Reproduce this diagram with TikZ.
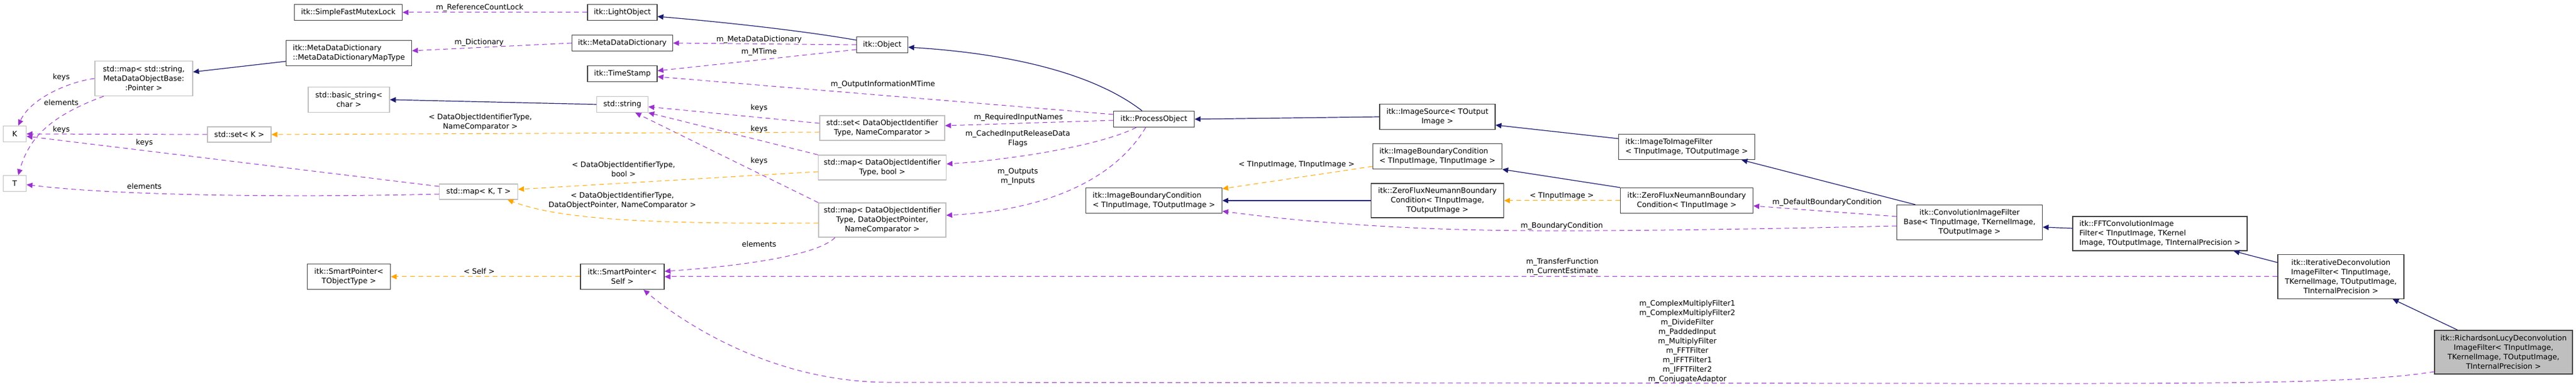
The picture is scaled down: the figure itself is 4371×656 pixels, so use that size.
\documentclass[tikz,border=0pt]{standalone}
\usepackage{fontspec}
\setmainfont{DejaVu Sans}
\usetikzlibrary{arrows.meta}
\definecolor{pur}{HTML}{9A32CD}
\definecolor{org}{HTML}{FFA500}
\definecolor{blu}{HTML}{191970}
\definecolor{gb}{HTML}{BFBFBF}
\definecolor{db}{HTML}{404040}
\begin{document}
\begin{tikzpicture}[x=0.5pt,y=-0.5pt,
  every node/.style={font=\fontsize{6.3}{8}\selectfont, inner sep=1pt},
  itk/.style={draw=db, line width=0.6pt, fill=white, align=center},
  stdn/.style={draw=gb, line width=0.6pt, fill=white, align=center},
  lbl/.style={align=center},
  tip/.style={-{Triangle[length=5pt,width=4.5pt]}},
  mem/.style={tip, draw=pur, dash pattern=on 4pt off 3pt, line width=0.5pt},
  tmpl/.style={tip, draw=org, dash pattern=on 4pt off 3pt, line width=0.5pt},
  inh/.style={tip, draw=blu, line width=0.6pt}]
\useasboundingbox (0,0) rectangle (4371,656);
% nodes
\node[itk, minimum width=91.5pt, minimum height=13.5pt] (mutex) at (591,21) {itk::SimpleFastMutexLock};
\node[itk, minimum width=106.5pt, minimum height=21.5pt, align=left] (maptype) at (592,90) {itk::MetaDataDictionary\\::MetaDataDictionaryMapType};
\node[stdn, minimum width=83pt, minimum height=29.5pt] (mapstr) at (244,133) {std::map\textless{} std::string,\\MetaDataObjectBase:\\:Pointer \textgreater{}};
\node[stdn, minimum width=69pt, minimum height=21.5pt] (bstr) at (592,169) {std::basic\_string\textless{}\\char \textgreater{}};
\node[stdn, minimum width=19.5pt, minimum height=13.5pt] (K) at (25,227) {K};
\node[stdn, minimum width=54pt, minimum height=13pt] (setK) at (406,228) {std::set\textless{} K \textgreater{}};
\node[stdn, minimum width=19.5pt, minimum height=13.5pt] (T) at (25,311) {T};
\node[itk, minimum width=70.5pt, minimum height=21.5pt] (spT) at (592,469) {itk::SmartPointer\textless{}\\TObjectType \textgreater{}};
\node[itk, minimum width=59pt, minimum height=13.5pt] (light) at (1056,21) {itk::LightObject};
\node[itk, minimum width=85.5pt, minimum height=13.5pt] (mdd) at (1056,73) {itk::MetaDataDictionary};
\node[itk, minimum width=59pt, minimum height=13.5pt] (ts) at (1056,125) {itk::TimeStamp};
\node[stdn, minimum width=43.5pt, minimum height=13.5pt] (str) at (1056,177) {std::string};
\node[stdn, minimum width=66.5pt, minimum height=13pt] (mapKT) at (812,325) {std::map\textless{} K, T \textgreater{}};
\node[stdn, minimum width=106pt, minimum height=21pt] (setD) at (1497,217) {std::set\textless{} DataObjectIdentifier\\Type, NameComparator \textgreater{}};
\node[stdn, minimum width=108.5pt, minimum height=21pt] (mapB) at (1497,284) {std::map\textless{} DataObjectIdentifier\\Type, bool \textgreater{}};
\node[stdn, minimum width=108pt, minimum height=29pt] (mapP) at (1497,373) {std::map\textless{} DataObjectIdentifier\\Type, DataObjectPointer,\\NameComparator \textgreater{}};
\node[itk, minimum width=71pt, minimum height=21.5pt] (spS) at (1056,469) {itk::SmartPointer\textless{}\\Self \textgreater{}};
\node[itk, minimum width=43.5pt, minimum height=13.5pt] (obj) at (1497,76) {itk::Object};
\node[itk, minimum width=68.5pt, minimum height=13.5pt] (po) at (1958,202) {itk::ProcessObject};
\node[itk, minimum width=115.5pt, minimum height=21.5pt, align=left] (ibcIO) at (1958,340) {itk::ImageBoundaryCondition\\\textless{} TInputImage, TOutputImage \textgreater{}};
\node[itk, minimum width=98pt, minimum height=21.5pt] (isrc) at (2439,198) {itk::ImageSource\textless{} TOutput\\Image \textgreater{}};
\node[itk, minimum width=109.5pt, minimum height=21.5pt, align=left] (ibcII) at (2439,265) {itk::ImageBoundaryCondition\\\textless{} TInputImage, TInputImage \textgreater{}};
\node[itk, minimum width=112.5pt, minimum height=29pt] (zfIO) at (2439,340) {itk::ZeroFluxNeumannBoundary\\Condition\textless{} TInputImage,\\TOutputImage \textgreater{}};
\node[itk, minimum width=115.5pt, minimum height=21.5pt, align=left] (i2i) at (2862,249) {itk::ImageToImageFilter\\\textless{} TInputImage, TOutputImage \textgreater{}};
\node[itk, minimum width=112.5pt, minimum height=21.5pt] (zfI) at (2862,340) {itk::ZeroFluxNeumannBoundary\\Condition\textless{} TInputImage \textgreater{}};
\node[itk, minimum width=123.5pt, minimum height=29.5pt] (conv) at (3342,377) {itk::ConvolutionImageFilter\\Base\textless{} TInputImage, TKernelImage,\\TOutputImage \textgreater{}};
\node[itk, minimum width=148pt, minimum height=29pt, align=left] (fft) at (3665,396) {itk::FFTConvolutionImage\\Filter\textless{} TInputImage, TKernel\\Image, TOutputImage, TInternalPrecision \textgreater{}};
\node[itk, minimum width=107pt, minimum height=37.5pt] (iter) at (3972,469) {itk::IterativeDeconvolution\\ImageFilter\textless{} TInputImage,\\TKernelImage, TOutputImage,\\TInternalPrecision \textgreater{}};
\node[itk, fill=gb, minimum width=117pt, minimum height=37pt] (rl) at (4248,597) {itk::RichardsonLucyDeconvolution\\ImageFilter\textless{} TInputImage,\\TKernelImage, TOutputImage,\\TInternalPrecision \textgreater{}};
% member edges
\draw[mem] (light.west) -- (mutex.east);
\draw[mem] (mdd.west) -- ([yshift=2pt]maptype.east);
\draw[mem] (obj.west) -- (mdd.east);
\draw[mem] ([yshift=-4pt]obj.west) -- ([yshift=2.5pt]ts.east);
\draw[mem] ([yshift=4pt]po.west) -- ([yshift=-2.5pt]ts.east);
\draw[mem] ([yshift=-1pt]po.west) -- ([yshift=2pt]setD.east);
\draw[mem] ([xshift=-15pt]po.south) .. controls (1860,250) and (1700,272) .. ([yshift=3pt]mapB.east);
\draw[mem] ([xshift=-7pt]po.south) .. controls (1900,290) and (1800,355) .. ([yshift=4pt]mapP.east);
\draw[mem] ([yshift=4pt]setD.west) -- ([yshift=-2pt]str.east);
\draw[mem] (mapB.north west) -- (str.south east);
\draw[mem] (mapP.north west) -- ([xshift=11pt]str.south);
\draw[mem] ([xshift=-40pt]mapP.south) .. controls (1380,440) and (1200,455) .. ([yshift=4.5pt]spS.east);
\draw[mem] (iter.west) -- (spS.east);
\draw[mem] ([yshift=-16.5pt]rl.west) .. controls (4000,652) and (3700,650) .. (3300,650) -- (1500,648) .. controls (1300,645) and (1150,540) .. ([xshift=18pt]spS.south);
\draw[mem] ([yshift=-3pt]conv.west) .. controls (3000,388) and (2750,392) .. (2600,391) .. controls (2350,390) and (2180,372) .. ([yshift=-9pt]ibcIO.east);
\draw[mem] ([yshift=5pt]conv.west) -- ([yshift=-4.5pt]zfI.east);
\draw[mem] (mapstr.west) .. controls (110,140) and (50,170) .. ([xshift=3pt]K.north);
\draw[mem] ([xshift=-34pt]mapstr.south) .. controls (90,195) and (50,230) .. ([xshift=3pt]T.north);
\draw[mem] (setK.west) -- (K.east);
\draw[mem] ([yshift=4.5pt]mapKT.west) -- ([yshift=-2pt]K.east);
\draw[mem] ([yshift=-2pt]mapKT.west) .. controls (500,335) and (200,332) .. ([yshift=-1pt]T.east);
% template edges
\draw[tmpl] ([yshift=-3.5pt]setD.west) -- (setK.east);
\draw[tmpl] ([yshift=-3.5pt]mapB.west) -- ([yshift=2pt]mapKT.east);
\draw[tmpl] ([yshift=-2.5pt]mapP.west) .. controls (1100,380) and (950,372) .. ([xshift=-9pt]mapKT.south east);
\draw[tmpl] (spS.west) -- (spT.east);
\draw[tmpl] ([yshift=-8.5pt]ibcII.west) -- ([yshift=10pt]ibcIO.east);
\draw[tmpl] (zfI.west) -- (zfIO.east);
% inheritance
\draw[inh] ([yshift=-7pt]maptype.west) -- ([yshift=5.5pt]mapstr.east);
\draw[inh] (str.west) -- (bstr.east);
\draw[inh] ([yshift=4pt]obj.west) .. controls (1350,50) and (1200,35) .. ([yshift=-3.5pt]light.east);
\draw[inh] ([xshift=-10pt]po.north) .. controls (1850,120) and (1700,90) .. ([yshift=-2pt]obj.east);
\draw[inh] (isrc.west) -- (po.east);
\draw[inh] ([yshift=7pt]i2i.west) -- ([yshift=-7pt]isrc.east);
\draw[inh] (zfI.north west) -- (ibcII.south east);
\draw[inh] (zfIO.west) -- (ibcIO.east);
\draw[inh] ([xshift=-46pt]conv.north) -- ([xshift=46.5pt]i2i.south);
\draw[inh] ([yshift=4.5pt]fft.west) -- ([yshift=-4pt]conv.east);
\draw[inh] ([yshift=12pt]iter.west) -- ([xshift=62.5pt]fft.south);
\draw[inh] ([xshift=-39pt]rl.north) -- ([xshift=44pt]iter.south);
% labels
\node[lbl] (l1) at (814,13) {m\_ReferenceCountLock};
\node[lbl] (l2) at (813,72) {m\_Dictionary};
\node[lbl] (l3) at (1288,67) {m\_MetaDataDictionary};
\node[lbl] (l4) at (1288,88) {m\_MTime};
\node[lbl] (l5) at (1498,143) {m\_OutputInformationMTime};
\node[lbl] (l6) at (1728,199) {m\_RequiredInputNames};
\node[lbl] (l7) at (1727,235) {m\_CachedInputReleaseData\\Flags};
\node[lbl] (l8) at (1727,299) {m\_Outputs\\m\_Inputs};
\node[lbl] (l9) at (1288,183) {keys};
\node[lbl] (l10) at (1288,219) {keys};
\node[lbl] (l11) at (1288,273) {keys};
\node[lbl] (l12) at (1288,414) {elements};
\node[lbl] (l13) at (2651,452) {m\_TransferFunction\\m\_CurrentEstimate};
\node[lbl] (l14) at (2863,579) {m\_ComplexMultiplyFilter1\\m\_ComplexMultiplyFilter2\\m\_DivideFilter\\m\_PaddedInput\\m\_MultiplyFilter\\m\_FFTFilter\\m\_IFFTFilter1\\m\_IFFTFilter2\\m\_ConjugateAdaptor};
\node[lbl] (l15) at (2650,383) {m\_BoundaryCondition};
\node[lbl] (l16) at (3100,343) {m\_DefaultBoundaryCondition};
\node[lbl] (l17) at (104,131) {keys};
\node[lbl] (l18) at (104,174) {elements};
\node[lbl] (l19) at (104,220) {keys};
\node[lbl] (l20) at (245,242) {keys};
\node[lbl] (l21) at (245,316) {elements};
\node[lbl] (l22) at (815,207) {\textless{} DataObjectIdentifierType,\\NameComparator \textgreater{}};
\node[lbl] (l23) at (1058,287) {\textless{} DataObjectIdentifierType,\\bool \textgreater{}};
\node[lbl] (l24) at (1056,340) {\textless{} DataObjectIdentifierType,\\DataObjectPointer, NameComparator \textgreater{}};
\node[lbl] (l25) at (813,460) {\textless{} Self \textgreater{}};
\node[lbl] (l26) at (2200,279) {\textless{} TInputImage, TInputImage \textgreater{}};
\node[lbl] (l27) at (2650,332) {\textless{} TInputImage \textgreater{}};
\end{tikzpicture}
\end{document}
